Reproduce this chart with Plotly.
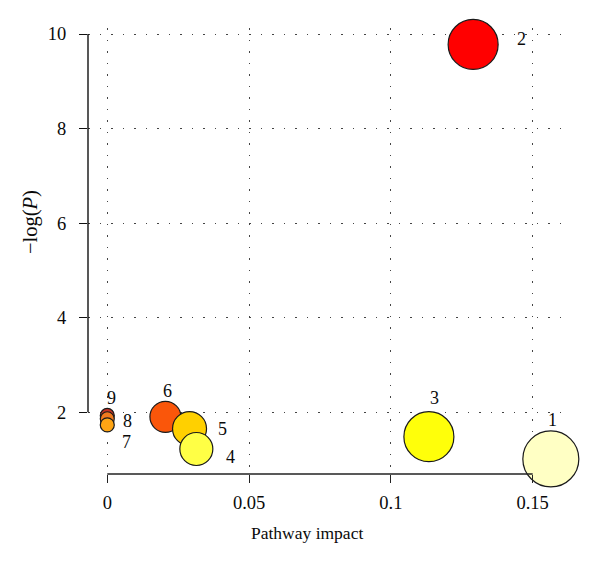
import plotly.graph_objects as go

# ---- data ----
pathway_ids = ["1", "2", "3", "4", "5", "6", "7", "8", "9"]
pathway_impact = [0.1564, 0.129, 0.1134, 0.0314, 0.029, 0.0205, 0.0, 0.0, 0.0]
neg_log_p = [1.01, 9.78, 1.48, 1.22, 1.65, 1.90, 1.73, 1.86, 1.93]
bubble_diam_px = [56, 50, 50, 33, 34, 31, 14, 14, 14]
bubble_colors = ["#FFFFC4", "#FF0000", "#FFFF0A", "#FFFF45", "#FFD000",
                 "#FA560A", "#FFA514", "#F07A1E", "#C83224"]

x_tick_vals = [0, 0.05, 0.1, 0.15]
x_tick_text = ["0", "0.05", "0.1", "0.15"]
y_tick_vals = [2, 4, 6, 8, 10]
y_tick_text = ["2", "4", "6", "8", "10"]

# label offsets from bubble centre, in screen pixels (dx right, dy down)
label_offsets = [(2, -39), (48, -5), (6, -39), (34, 8), (33, 0),
                 (2, -26), (19, 17), (20, 2), (4, -17)]

FONT = "Liberation Serif"
FS_TICK = 18.5
FS_XTITLE = 17.5
FS_YTITLE = 20.5
FS_LABEL = 18
TXT = "#0a0a0a"

# draw in reverse order so lower ids sit on top
order = list(range(len(pathway_ids)))[::-1]

fig = go.Figure()
fig.add_trace(go.Scatter(
    x=[pathway_impact[i] for i in order],
    y=[neg_log_p[i] for i in order],
    mode="markers",
    marker=dict(
        size=[bubble_diam_px[i] for i in order],
        color=[bubble_colors[i] for i in order],
        line=dict(color="#1a1a1a", width=1.2),
        opacity=1,
    ),
    cliponaxis=False,
    hoverinfo="skip",
))

annotations = []
for i, pid in enumerate(pathway_ids):
    dx, dy = label_offsets[i]
    annotations.append(dict(
        x=pathway_impact[i], y=neg_log_p[i], xref="x", yref="y",
        text=pid, showarrow=False, xshift=dx, yshift=-dy,
        xanchor="center", yanchor="middle",
        font=dict(family=FONT, size=FS_LABEL, color=TXT),
    ))

annotations.append(dict(
    x=0.457, y=-0.132, xref="paper", yref="paper", text="Pathway impact",
    xanchor="center", yanchor="middle",
    showarrow=False, font=dict(family=FONT, size=FS_XTITLE, color=TXT),
))
annotations.append(dict(
    x=-0.121, y=0.565, xref="paper", yref="paper", text="\u2212log(<i>P</i>)",
    xanchor="center", yanchor="middle",
    textangle=-90, showarrow=False,
    font=dict(family=FONT, size=FS_YTITLE, color=TXT),
))

shapes = [
    dict(type="line", xref="x", yref="paper", x0=x_tick_vals[0], x1=x_tick_vals[-1],
         y0=0, y1=0, line=dict(color="#222", width=1.4)),
    dict(type="line", xref="paper", yref="y", x0=0, x1=0,
         y0=y_tick_vals[0], y1=y_tick_vals[-1], line=dict(color="#111", width=1.4)),
]

# the page body has an 8px margin, so the figure is 8px smaller than the window
fig.update_layout(
    width=592, height=559,
    margin=dict(l=80, r=33, t=20, b=93),
    paper_bgcolor="white", plot_bgcolor="white",
    showlegend=False,
    annotations=annotations,
    shapes=shapes,
    font=dict(family=FONT, size=FS_TICK, color=TXT),
)
fig.update_xaxes(
    range=[-0.0068, 0.1621], tickvals=x_tick_vals, ticktext=x_tick_text,
    ticks="outside", ticklen=8, tickwidth=1.3, tickcolor="#222",
    showline=False, zeroline=False,
    showgrid=True, gridcolor="#444", gridwidth=1.2, griddash="1.5px,10px",
    ticklabelstandoff=4,
    tickfont=dict(family=FONT, size=FS_TICK, color=TXT),
)
fig.update_yaxes(
    range=[0.691, 10.127], tickvals=y_tick_vals, ticktext=y_tick_text,
    ticks="outside", ticklen=8, tickwidth=1.3, tickcolor="#111",
    showline=False, zeroline=False,
    showgrid=True, gridcolor="#444", gridwidth=1.2, griddash="1.5px,10px",
    ticklabelstandoff=9,
    tickfont=dict(family=FONT, size=FS_TICK, color=TXT),
)

fig.write_html("out.html")
